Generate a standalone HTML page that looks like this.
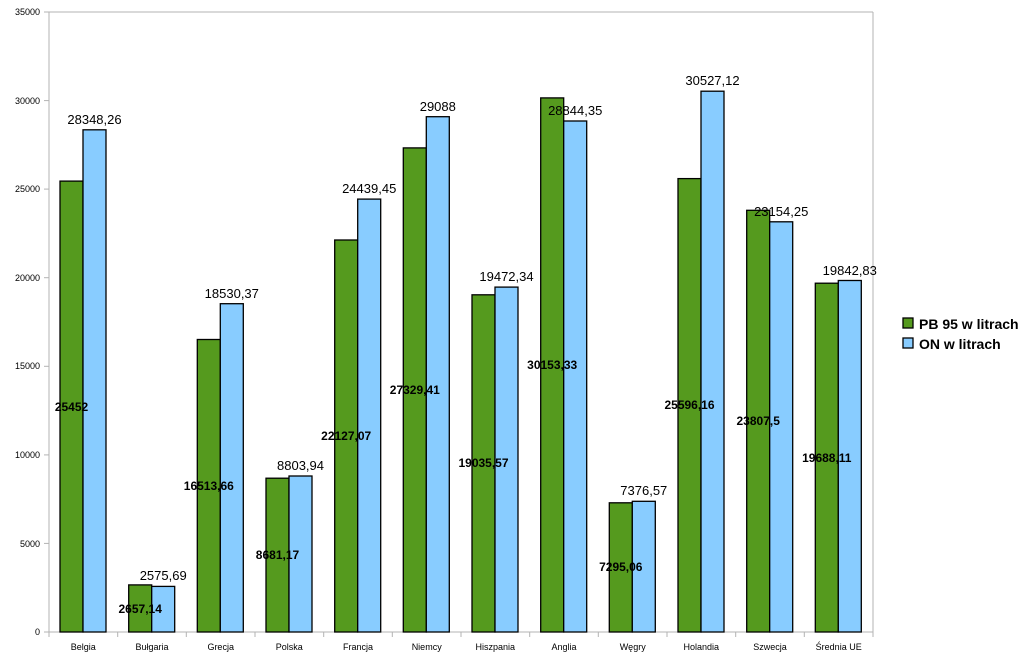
<!DOCTYPE html>
<html><head><meta charset="utf-8"><style>
html,body{margin:0;padding:0;background:#fff}
svg{display:block;font-family:"Liberation Sans",Arial,sans-serif}
.g{fill:#559a1e;stroke:#000;stroke-width:1.3}
.b{fill:#88ccff;stroke:#000;stroke-width:1.3}
.yl{font-size:9px;text-anchor:end}
.xl{font-size:9px;text-anchor:middle}
.gl{font-size:12px;font-weight:bold;text-anchor:middle}
.bl{font-size:13px;text-anchor:middle}
</style></head><body>
<svg width="1024" height="661" viewBox="0 0 1024 661">
<g stroke="#b3b3b3" stroke-width="1" fill="none">
<line x1="49" y1="12" x2="873" y2="12"/>
<line x1="873" y1="12" x2="873" y2="637"/>
<line x1="49" y1="12" x2="49" y2="637"/>
<line x1="44" y1="632" x2="873" y2="632"/>
<line x1="44" y1="12" x2="49" y2="12"/>
<line x1="44" y1="100.6" x2="49" y2="100.6"/>
<line x1="44" y1="189.1" x2="49" y2="189.1"/>
<line x1="44" y1="277.7" x2="49" y2="277.7"/>
<line x1="44" y1="366.3" x2="49" y2="366.3"/>
<line x1="44" y1="454.9" x2="49" y2="454.9"/>
<line x1="44" y1="543.4" x2="49" y2="543.4"/>
<line x1="117.7" y1="632" x2="117.7" y2="637"/>
<line x1="186.3" y1="632" x2="186.3" y2="637"/>
<line x1="255" y1="632" x2="255" y2="637"/>
<line x1="323.7" y1="632" x2="323.7" y2="637"/>
<line x1="392.3" y1="632" x2="392.3" y2="637"/>
<line x1="461" y1="632" x2="461" y2="637"/>
<line x1="529.7" y1="632" x2="529.7" y2="637"/>
<line x1="598.3" y1="632" x2="598.3" y2="637"/>
<line x1="667" y1="632" x2="667" y2="637"/>
<line x1="735.7" y1="632" x2="735.7" y2="637"/>
<line x1="804.3" y1="632" x2="804.3" y2="637"/>
</g>
<text class="yl" x="40" y="15">35000</text>
<text class="yl" x="40" y="104">30000</text>
<text class="yl" x="40" y="192">25000</text>
<text class="yl" x="40" y="281">20000</text>
<text class="yl" x="40" y="369">15000</text>
<text class="yl" x="40" y="458">10000</text>
<text class="yl" x="40" y="547">5000</text>
<text class="yl" x="40" y="635">0</text>

<rect class="g" x="60" y="181.1" width="23" height="450.9"/><rect class="b" x="83" y="129.8" width="23" height="502.2"/>
<rect class="g" x="128.7" y="584.9" width="23" height="47.1"/><rect class="b" x="151.7" y="586.4" width="23" height="45.6"/>
<rect class="g" x="197.3" y="339.5" width="23" height="292.5"/><rect class="b" x="220.3" y="303.7" width="23" height="328.3"/>
<rect class="g" x="266" y="478.2" width="23" height="153.8"/><rect class="b" x="289" y="476" width="23" height="156"/>
<rect class="g" x="334.7" y="240" width="23" height="392"/><rect class="b" x="357.7" y="199.1" width="23" height="432.9"/>
<rect class="g" x="403.3" y="147.9" width="23" height="484.1"/><rect class="b" x="426.3" y="116.7" width="23" height="515.3"/>
<rect class="g" x="472" y="294.8" width="23" height="337.2"/><rect class="b" x="495" y="287.1" width="23" height="344.9"/>
<rect class="g" x="540.7" y="97.9" width="23" height="534.1"/><rect class="b" x="563.7" y="121" width="23" height="511"/>
<rect class="g" x="609.3" y="502.8" width="23" height="129.2"/><rect class="b" x="632.3" y="501.3" width="23" height="130.7"/>
<rect class="g" x="678" y="178.6" width="23" height="453.4"/><rect class="b" x="701" y="91.2" width="23" height="540.8"/>
<rect class="g" x="746.7" y="210.3" width="23" height="421.7"/><rect class="b" x="769.7" y="221.8" width="23" height="410.2"/>
<rect class="g" x="815.3" y="283.2" width="23" height="348.8"/><rect class="b" x="838.3" y="280.5" width="23" height="351.5"/>

<text class="bl" x="94.5" y="124">28348,26</text>
<text class="bl" x="163.2" y="580">2575,69</text>
<text class="bl" x="231.8" y="298">18530,37</text>
<text class="bl" x="300.5" y="470">8803,94</text>
<text class="bl" x="369.2" y="193">24439,45</text>
<text class="bl" x="437.8" y="111">29088</text>
<text class="bl" x="506.5" y="281">19472,34</text>
<text class="bl" x="575.2" y="115">28844,35</text>
<text class="bl" x="643.8" y="495">7376,57</text>
<text class="bl" x="712.5" y="85">30527,12</text>
<text class="bl" x="781.2" y="216">23154,25</text>
<text class="bl" x="849.8" y="275">19842,83</text>

<text class="gl" x="71.5" y="411">25452</text>
<text class="gl" x="140.2" y="613">2657,14</text>
<text class="gl" x="208.8" y="490">16513,66</text>
<text class="gl" x="277.5" y="559">8681,17</text>
<text class="gl" x="346.2" y="440">22127,07</text>
<text class="gl" x="414.8" y="394">27329,41</text>
<text class="gl" x="483.5" y="467">19035,57</text>
<text class="gl" x="552.2" y="369">30153,33</text>
<text class="gl" x="620.8" y="571">7295,06</text>
<text class="gl" x="689.5" y="409">25596,16</text>
<text class="gl" x="758.2" y="425">23807,5</text>
<text class="gl" x="826.8" y="462">19688,11</text>

<text class="xl" x="83.3" y="650">Belgia</text>
<text class="xl" x="152" y="650">Bułgaria</text>
<text class="xl" x="220.7" y="650">Grecja</text>
<text class="xl" x="289.3" y="650">Polska</text>
<text class="xl" x="358" y="650">Francja</text>
<text class="xl" x="426.7" y="650">Niemcy</text>
<text class="xl" x="495.3" y="650">Hiszpania</text>
<text class="xl" x="564" y="650">Anglia</text>
<text class="xl" x="632.7" y="650">Węgry</text>
<text class="xl" x="701.3" y="650">Holandia</text>
<text class="xl" x="770" y="650">Szwecja</text>
<text class="xl" x="838.7" y="650">Średnia UE</text>

<rect class="g" x="903" y="318" width="10" height="10" stroke-width="1"/>
<rect class="b" x="903" y="338" width="10" height="10" stroke-width="1"/>
<text x="919" y="329" font-size="14" font-weight="bold">PB 95 w litrach</text>
<text x="919" y="349" font-size="14" font-weight="bold">ON w litrach</text>
</svg>
</body></html>
